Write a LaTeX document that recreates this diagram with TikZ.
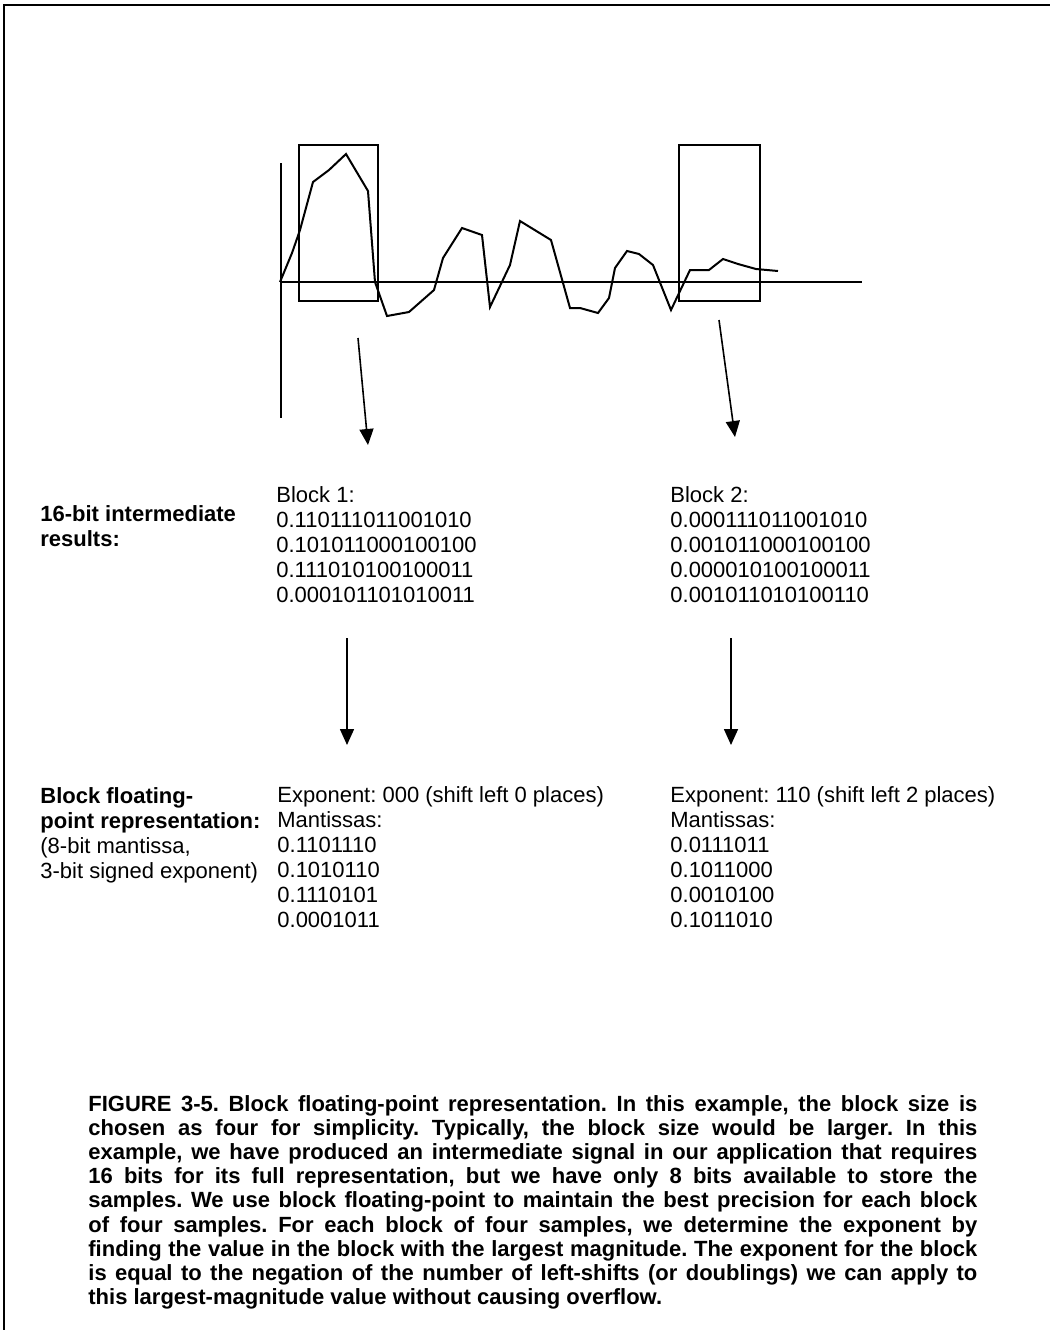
\documentclass[tikz,border=0pt]{standalone}
\usepackage{fontspec}
\setmainfont{Liberation Sans}
\usetikzlibrary{arrows.meta,positioning}

\begin{document}
\begin{tikzpicture}[x=0.5pt, y=-0.5pt,
    txt/.style={anchor=base west, inner sep=0pt, align=left, font=\fontsize{11}{12.5}\selectfont\frenchspacing},
    hdr/.style={txt, font=\fontsize{11}{12.5}\selectfont\bfseries},
    caption/.style={anchor=base west, inner sep=0pt, text width=444.5pt, align=justify, font=\fontsize{11}{12.12}\selectfont\bfseries\frenchspacing},
    frame/.style={line width=1pt},
    axis/.style={line width=0.75pt},
    wave/.style={line width=1pt},
    blockbox/.style={line width=0.7pt},
    arrow/.style={-{Triangle[length=8pt,width=7pt]}, line width=0.8pt}
]
\useasboundingbox (0,0) rectangle (1050,1330);
\draw[frame] (4,1330) -- (4,5) -- (1050,5);

% signal and the two blocks
\draw[axis] (281,163) -- (281,418);
\draw[axis] (281,282) -- (862,282);
\draw[blockbox] (299,145) rectangle (378,301);
\draw[blockbox] (679,145) rectangle (760,301);
\draw[wave] (280,282) -- (292,253) -- (300,230) -- (313,182) -- (329,170) -- (346,154)
  -- (368,191) -- (375,282) -- (387,316) -- (409,312) -- (434,290) -- (443,258)
  -- (462,228) -- (482,235) -- (490,307) -- (510,265) -- (520,221) -- (551,240)
  -- (570,308) -- (580,308) -- (598,313) -- (609,298) -- (615,268) -- (627,251)
  -- (639,254) -- (653,265) -- (671,310) -- (690,270) -- (709,270) -- (723,259)
  -- (738,264) -- (756,269) -- (778,271);

\coordinate (b1top) at (358,338);
\coordinate (b2top) at (719,320);

% 16-bit values (nodes sit on their last baseline)
\node[hdr] (res) at (40,546) {16-bit intermediate\\results:};
\node[txt] (blk1) at (276,602) {Block 1:\\0.110111011001010\\0.101011000100100\\0.111010100100011\\0.000101101010011};
\node[txt] (blk2) at (670,602) {Block 2:\\0.000111011001010\\0.001011000100100\\0.000010100100011\\0.001011010100110};

\coordinate (b1in) at (368,445);
\coordinate (b2in) at (735,437);
\coordinate (b1out) at (347,638);
\coordinate (b2out) at (731,638);
\coordinate (e1in) at (347,745);
\coordinate (e2in) at (731,745);

% block floating-point
\node[txt] (bfp) at (40,878) {\textbf{Block floating-}\\\textbf{point representation:}\\(8-bit mantissa,\\3-bit signed exponent)};
\node[txt] (exp1) at (277,927) {Exponent: 000 (shift left 0 places)\\Mantissas:\\0.1101110\\0.1010110\\0.1110101\\0.0001011};
\node[txt] (exp2) at (670,927) {Exponent: 110 (shift left 2 places)\\Mantissas:\\0.0111011\\0.1011000\\0.0010100\\0.1011010};

\draw[arrow] (b1top) -- (b1in);
\draw[arrow] (b2top) -- (b2in);
\draw[arrow] (b1out) -- (e1in);
\draw[arrow] (b2out) -- (e2in);

\node[caption] (cap) at (88,1111) {FIGURE 3-5. Block floating-point representation. In this example, the block size is\linebreak
chosen as four for simplicity. Typically, the block size would be larger. In this\linebreak
example, we have produced an intermediate signal in our application that requires\linebreak
16 bits for its full representation, but we have only 8 bits available to store the\linebreak
samples. We use block floating-point to maintain the best precision for each block\linebreak
of four samples. For each block of four samples, we determine the exponent by\linebreak
finding the value in the block with the largest magnitude. The exponent for the block\linebreak
is equal to the negation of the number of left-shifts (or doublings) we can apply to\linebreak
this largest-magnitude value without causing overflow.};
\end{tikzpicture}
\end{document}
